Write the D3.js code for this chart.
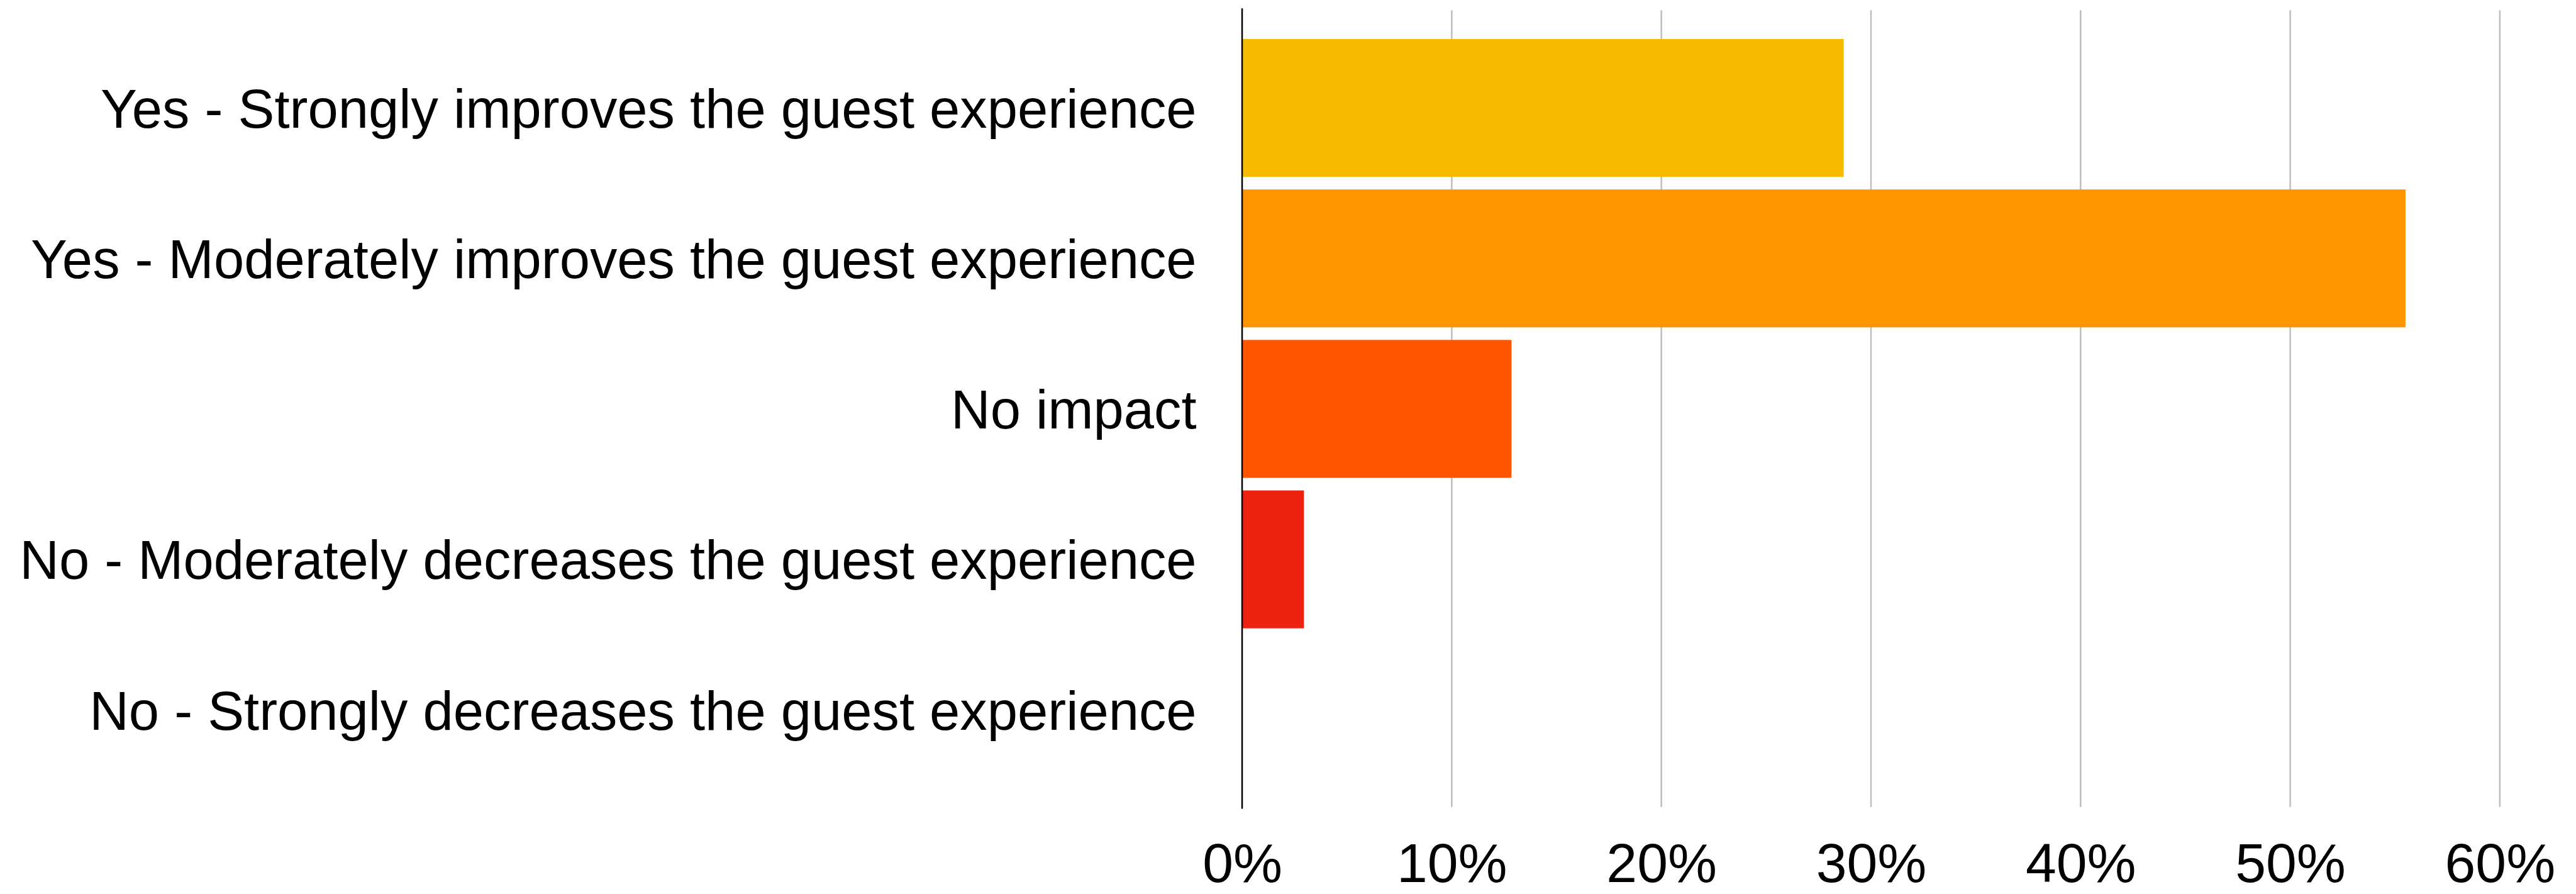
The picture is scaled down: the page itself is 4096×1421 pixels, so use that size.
<!DOCTYPE html>
<html>
<head>
<meta charset="utf-8">
<script src="https://cdn.jsdelivr.net/npm/d3@7"></script>
<style>
  html, body { margin: 0; padding: 0; background: #ffffff; overflow: hidden; }
  svg { display: block; }
  text { font-family: "Liberation Sans", Arial, Helvetica, sans-serif; fill: #000; }
</style>
</head>
<body>
<svg id="chart"></svg>
<script>
// Survey answers, share of respondents (percent)
const categories = [
  "Yes - Strongly improves the guest experience",
  "Yes - Moderately improves the guest experience",
  "No impact",
  "No - Moderately decreases the guest experience",
  "No - Strongly decreases the guest experience"
];
const values = [28.7, 55.5, 12.85, 2.95, 0];
const barColors = ["#f6bb00", "#fe9400", "#ff5500", "#ed2211", "#c41a0f"];
const tickValues = [0, 10, 20, 30, 40, 50, 60];
const tickLabels = ["0%", "10%", "20%", "30%", "40%", "50%", "60%"];

const W = 4295, H = 1490;
const svg = d3.select("#chart")
  .attr("width", 4096).attr("height", 1421)
  .attr("viewBox", `0 0 ${W} ${H}`)
  .attr("preserveAspectRatio", "xMidYMid meet");

const x = d3.scaleLinear().domain([0, 60]).range([2071, 4168]);
const y = d3.scaleBand().domain(categories).range([65, 1298]).paddingInner(0.0837).paddingOuter(0);

const gridTop = 17, gridBottom = 1345;

// vertical gridlines
svg.append("g")
  .selectAll("line")
  .data(tickValues.filter(v => v > 0))
  .join("line")
  .attr("x1", d => x(d)).attr("x2", d => x(d))
  .attr("y1", gridTop).attr("y2", gridBottom)
  .attr("stroke", "#bdbdbd").attr("stroke-width", 2.6);

// bars
svg.append("g")
  .selectAll("rect")
  .data(values)
  .join("rect")
  .attr("x", x(0))
  .attr("y", (d, i) => y(categories[i]))
  .attr("width", d => x(d) - x(0))
  .attr("height", y.bandwidth())
  .attr("fill", (d, i) => barColors[i]);

// value axis baseline
svg.append("line")
  .attr("x1", x(0)).attr("x2", x(0))
  .attr("y1", 14).attr("y2", 1348)
  .attr("stroke", "#000").attr("stroke-width", 2.6);

// category labels
const yAxis = d3.axisLeft(y).tickSize(0).tickPadding(76);
svg.append("g")
  .attr("transform", `translate(${x(0)},0)`)
  .call(yAxis)
  .call(g => g.select(".domain").remove())
  .call(g => g.selectAll("text")
    .attr("font-size", 91)
    .attr("dy", "0.36em")
    .attr("font-family", '"Liberation Sans", Arial, Helvetica, sans-serif')
    .attr("fill", "#000"));

// percentage tick labels
const xAxis = d3.axisBottom(x).tickValues(tickValues)
  .tickFormat((d, i) => tickLabels[i]).tickSize(0).tickPadding(0);
svg.append("g")
  .attr("transform", `translate(0,1470)`)
  .call(xAxis)
  .call(g => g.select(".domain").remove())
  .call(g => g.selectAll("text")
    .attr("font-size", 92)
    .attr("dy", 0)
    .attr("y", 0)
    .attr("font-family", '"Liberation Sans", Arial, Helvetica, sans-serif')
    .attr("fill", "#000"));
</script>
</body>
</html>
